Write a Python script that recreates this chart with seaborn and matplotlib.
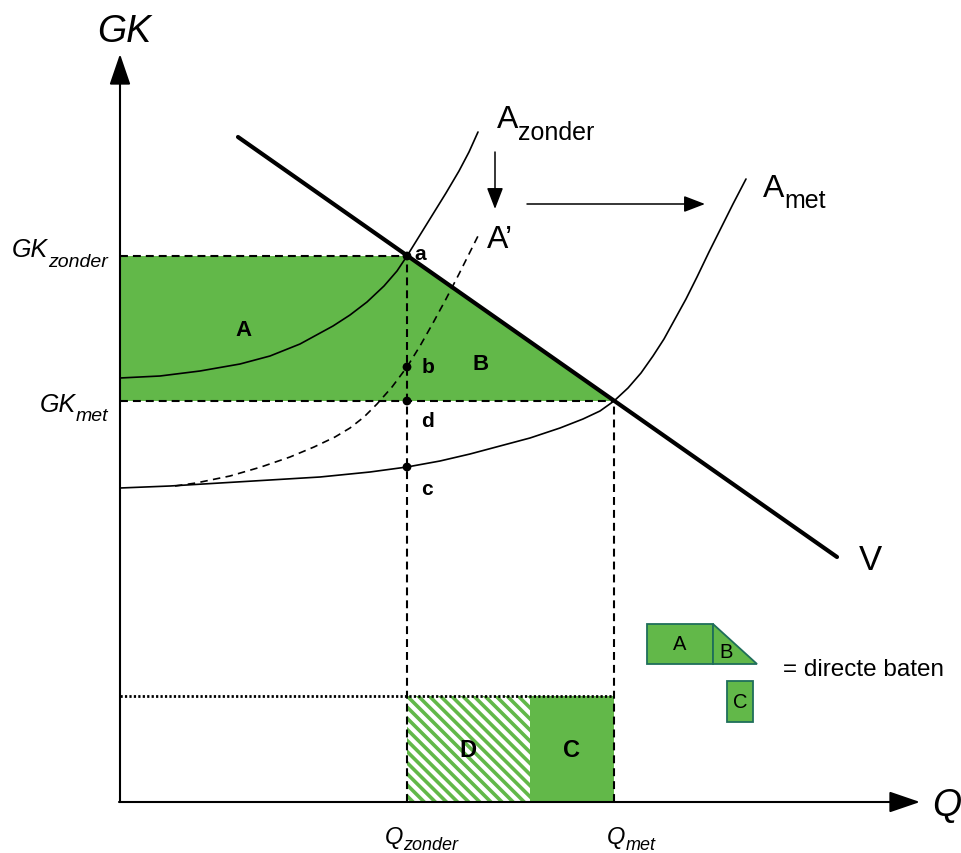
import numpy as np
import pandas as pd
import seaborn as sns
import matplotlib
matplotlib.use("Agg")
import matplotlib.pyplot as plt
from matplotlib.patches import Polygon, Rectangle

# levels in the diagram (origin at the axes crossing)
q_zonder = 287
q_met = 494
q_split = 410      # border between D and C
gk_zonder = 546
gk_met = 401
gk_dotted = 106

# demand line V
v_q = [118, 717]
v_gk = [665, 245]

# cost curve without the measure
az_q = [0, 40, 80, 120, 150, 180, 213, 230, 247, 264, 277, 287, 300, 313, 326, 339, 349, 358]
az_gk = [424, 426, 431, 438, 446, 458, 476, 487, 500, 516, 531, 546, 567, 588, 609, 631, 650, 670]

# intermediate curve A' (dashed)
ap_q = [55, 76, 110, 141, 170, 194, 215, 230, 244, 257, 272, 287, 300, 313, 326, 339, 350, 358]
ap_gk = [316, 319, 326, 335, 345, 355, 365, 374, 385, 398, 415, 435, 456, 479, 503, 528, 550, 566]

# cost curve with the measure
am_q = [0, 50, 100, 150, 200, 250, 287, 320, 350, 380, 410, 440, 463,
        480, 494, 508, 521, 533, 544, 555, 566, 577, 589, 601, 613, 626]
am_gk = [314, 316, 319, 322, 325, 330, 335, 341, 348, 356, 364, 374, 383,
         391, 401, 414, 429, 446, 463, 483, 503, 525, 550, 574, 598, 623]

# marked points on the Q_zonder line
pt_names = ["a", "b", "d", "c"]
pt_gk = [546, 435, 401, 335]

green = "#62b849"
edge = "#1f6e5a"

sns.set_style("white")
plt.rcParams["font.family"] = ["Liberation Sans", "DejaVu Sans"]
plt.rcParams["text.color"] = "black"
plt.rcParams["hatch.linewidth"] = 2.6

fig = plt.figure(figsize=(9.61, 8.54), dpi=100)
ax = fig.add_axes([0, 0, 1, 1])
ax.set_xlim(-120, 841)
ax.set_ylim(-51, 803)
ax.axis("off")

dash = (0, (3.8, 2.4))

# green areas A + B
ax.add_patch(Polygon([(0, gk_zonder), (q_zonder, gk_zonder), (q_met, gk_met), (0, gk_met)],
                     closed=True, facecolor=green, edgecolor="none", zorder=1))
# D hatched, C filled
ax.add_patch(Rectangle((q_zonder, 0), q_split - q_zonder, gk_dotted, facecolor="white",
                       edgecolor=green, hatch="\\\\\\", lw=0, zorder=1))
ax.add_patch(Rectangle((q_split, 0), q_met - q_split, gk_dotted, facecolor=green,
                       edgecolor="none", zorder=1))

# guide lines
ax.plot([0, q_zonder], [gk_zonder, gk_zonder], color="black", lw=1.5, ls=dash, zorder=2)
ax.plot([0, q_met], [gk_met, gk_met], color="black", lw=1.5, ls=dash, zorder=2)
ax.plot([q_zonder, q_zonder], [0, gk_zonder], color="black", lw=1.5, ls=dash, zorder=2)
ax.plot([q_met, q_met], [0, gk_met], color="black", lw=1.5, ls=dash, zorder=2)
ax.plot([0, q_met], [gk_dotted, gk_dotted], color="black", lw=2.0, ls=(0, (0.8, 0.8)), zorder=2)

# curves
sns.lineplot(x=az_q, y=az_gk, sort=False, estimator=None, color="black", lw=1.2, ax=ax, zorder=3)
sns.lineplot(x=ap_q, y=ap_gk, sort=False, estimator=None, color="black", lw=1.2, ax=ax, zorder=3,
             linestyle=(0, (4.5, 3.2)))
sns.lineplot(x=am_q, y=am_gk, sort=False, estimator=None, color="black", lw=1.2, ax=ax, zorder=3)
sns.lineplot(x=v_q, y=v_gk, sort=False, estimator=None, color="black", lw=3.0, ax=ax, zorder=4)

# points
sns.scatterplot(x=[q_zonder] * len(pt_gk), y=pt_gk, color="black", s=40, edgecolor="none",
                ax=ax, zorder=5, legend=False)
pt_off = {"a": (13, 3), "b": (21, 0), "d": (20, -20), "c": (20, -22)}
for name, g in zip(pt_names, pt_gk):
    dx, dy = pt_off[name]
    ax.text(q_zonder + dx, g + dy, name, fontsize=15, weight="bold", ha="center",
            va="center", zorder=6)

# axes with arrows
arrow = dict(arrowstyle="-|>,head_length=1.9,head_width=0.65", mutation_scale=10,
             color="black", lw=1.5, shrinkA=0, shrinkB=0)
ax.annotate("", xy=(0, 748), xytext=(0, 0), arrowprops=arrow, zorder=6)
ax.annotate("", xy=(800, 0), xytext=(-1, 0), arrowprops=arrow, zorder=6)
ax.text(4, 761, "GK", fontsize=27, style="italic", ha="center", va="baseline")
ax.text(827, -3, "Q", fontsize=27, style="italic", ha="center", va="center")

# shift arrows
small = dict(arrowstyle="-|>,head_length=1.3,head_width=0.5", mutation_scale=10,
             color="black", lw=1.1, shrinkA=0, shrinkB=0)
ax.annotate("", xy=(375, 593), xytext=(375, 650), arrowprops=small)
ax.annotate("", xy=(585, 598), xytext=(407, 598), arrowprops=small)


def left_sub(x, y, main, sub, y_sub, size, subsize, style="normal"):
    t = ax.text(x, y, main, fontsize=size, style=style, ha="left", va="baseline")
    ax.annotate(sub, xy=(1, y_sub), xycoords=(t, "data"), fontsize=subsize, style=style,
                ha="left", va="baseline")


def right_sub(x, y, main, sub, y_sub, size, subsize, style="normal"):
    s = ax.text(x, y_sub, sub, fontsize=subsize, style=style, ha="right", va="baseline")
    ax.annotate(main, xy=(0, y), xycoords=(s, "data"), fontsize=size, style=style,
                ha="right", va="baseline")


left_sub(377, 675, "A", "zonder", 663, 23, 18)
left_sub(643, 606, "A", "met", 595, 23, 18)
ax.text(367, 555, "A\u2019", fontsize=23, ha="left", va="baseline")
ax.text(750, 243, "V", fontsize=25, ha="center", va="center")

right_sub(-12, 546, "GK", "zonder", 536, 18, 14, style="italic")
right_sub(-12, 391, "GK", "met", 382, 18, 14, style="italic")
left_sub(265, -41, "Q", "zonder", -47, 17, 13, style="italic")
left_sub(487, -41, "Q", "met", -47, 17, 13, style="italic")

# region labels
ax.text(123, 473, "A", fontsize=16, weight="bold", ha="center", va="center")
ax.text(361, 438, "B", fontsize=16, weight="bold", ha="center", va="center")
ax.text(348, 52, "D", fontsize=17, weight="bold", ha="center", va="center")
ax.text(452, 52, "C", fontsize=17, weight="bold", ha="center", va="center")

# legend for direct benefits
ax.add_patch(Rectangle((527, 138), 66, 40, facecolor=green, edgecolor=edge, lw=1.3))
ax.add_patch(Polygon([(593, 178), (637, 138), (593, 138)], closed=True,
                     facecolor=green, edgecolor=edge, lw=1.3))
ax.add_patch(Rectangle((607, 80), 26, 41, facecolor=green, edgecolor=edge, lw=1.3))
ax.text(560, 158, "A", fontsize=14.5, ha="center", va="center")
ax.text(606, 150, "B", fontsize=14.5, ha="center", va="center")
ax.text(620, 100, "C", fontsize=14.5, ha="center", va="center")
ax.text(663, 133, "= directe baten", fontsize=17.5, ha="left", va="center")

fig.savefig("out.png", dpi=100)
